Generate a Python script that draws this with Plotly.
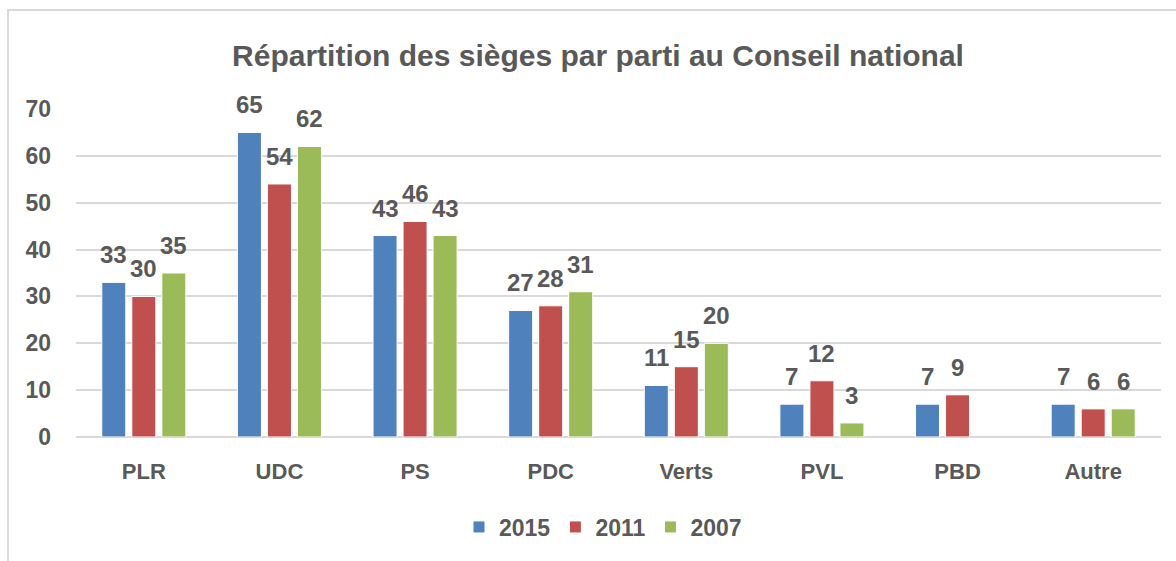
import plotly.graph_objects as go

categories = ["PLR", "UDC", "PS", "PDC", "Verts", "PVL", "PBD", "Autre"]
v2015 = [33, 65, 43, 27, 11, 7, 7, 7]
v2011 = [30, 54, 46, 28, 15, 12, 9, 6]
v2007 = [35, 62, 43, 31, 20, 3, None, 6]
series_names = ["2015", "2011", "2007"]
colors = ["#4F81BD", "#C0504D", "#9BBB59"]

FONT = "Liberation Sans Narrow, Arial Narrow, Liberation Sans, Arial, sans-serif"
TXT = "#595959"

W, H = 1176, 561
L, R, T, B = 76, 15, 109, 124
pw = W - L - R
ph = H - T - B
slot = (1 - 0.336) * pw / len(categories) / len(series_names)

fig = go.Figure()
for i, (name, vals, col) in enumerate(zip(series_names, [v2015, v2011, v2007], colors)):
    fig.add_trace(go.Bar(
        x=categories, y=vals, name=name,
        marker=dict(color=col, line=dict(color="white", width=1)),
        cliponaxis=False,
    ))
    for c, v in zip(categories, vals):
        if v is None:
            continue
        fig.add_annotation(x=c, y=v, xref="x", yref="y", text=str(v),
                           showarrow=False, xanchor="center", yanchor="bottom",
                           xshift=(i - 1) * slot, yshift=12,
                           font=dict(family=FONT, size=24, color=TXT, weight="bold"))

fig.update_layout(
    width=W, height=H,
    margin=dict(l=L, r=R, t=T, b=B),
    paper_bgcolor="white", plot_bgcolor="white",
    barmode="group", bargap=0.336, bargroupgap=0.2,
    font=dict(family=FONT, color=TXT, size=23, weight="bold"),
    title=dict(text="Répartition des sièges par parti au Conseil national",
               x=598 / W, xanchor="center", y=1 - 55 / H, yanchor="middle",
               font=dict(family=FONT, size=30, color=TXT, weight="bold")),
    showlegend=True,
    legend=dict(orientation="h", x=(603 - L) / pw, xanchor="center",
                y=-(527 - (T + ph)) / ph, yanchor="middle",
                font=dict(family=FONT, size=23, color=TXT, weight="bold"),
                itemwidth=30, traceorder="normal"),
)
fig.update_xaxes(showgrid=False, showline=False, ticks="",
                 tickfont=dict(family=FONT, size=22, color=TXT, weight="bold"),
                 ticklabelstandoff=19)
fig.update_yaxes(range=[0, 70], dtick=10, showgrid=True, gridcolor="#D9D9D9",
                 gridwidth=1.5, zeroline=True, zerolinecolor="#D9D9D9",
                 zerolinewidth=2, showline=False, ticks="",
                 tickfont=dict(family=FONT, size=23, color=TXT, weight="bold"),
                 ticklabelstandoff=24)

# outer chart frame
fig.add_shape(type="rect", xref="paper", yref="paper",
              x0=(8 - L) / pw, x1=(W + 20 - L) / pw,
              y0=-(H + 20 - (T + ph)) / ph, y1=(T + ph - 10) / ph,
              line=dict(color="#D9D9D9", width=2), fillcolor="rgba(0,0,0,0)",
              layer="below")

fig.write_html("out.html", config={"displayModeBar": False},
               post_script="document.body.style.margin='0';")
